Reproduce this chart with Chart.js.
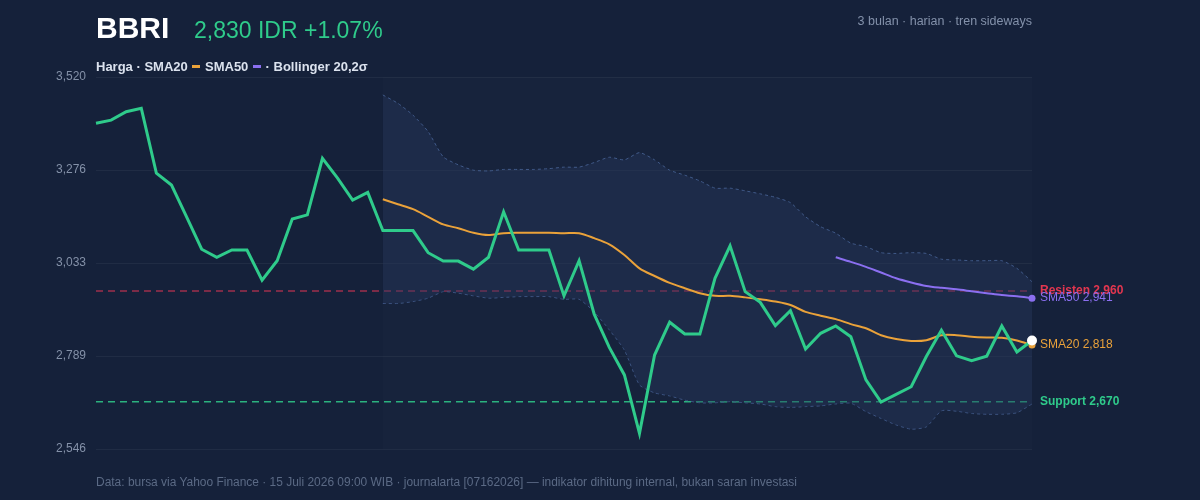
<!DOCTYPE html>
<html lang="id">
<head>
<meta charset="utf-8">
<title>BBRI</title>
<script src="https://cdn.jsdelivr.net/npm/chart.js@4.4.1/dist/chart.umd.min.js"></script>
<style>
  body { margin: 0; background: #15213a; font-family: "Liberation Sans", Arial, sans-serif; }
  #wrap { position: relative; width: 1200px; height: 500px; overflow: hidden; background: #15213a; }
  #chart { position: absolute; left: 0; top: 0; }
  .txt { position: absolute; white-space: nowrap; }
  #ticker { left: 96px; top: 13px; font-size: 30px; line-height: 30px; font-weight: bold; color: #ffffff; }
  #quote { left: 194px; top: 19px; font-size: 23px; line-height: 23px; color: #2fcb8b; }
  #meta { right: 168px; top: 14px; font-size: 12.5px; line-height: 14px; color: #8391aa; }
  #legend { left: 96px; top: 60px; font-size: 13px; line-height: 13px; font-weight: bold; color: #dbe2ee; }
  #legend .sw { display: inline-block; width: 8px; height: 3px; vertical-align: 3px; margin: 0 1px; }
  #footer { left: 96px; top: 476px; font-size: 12px; line-height: 12px; color: #5b6a85; transform-origin: 0 50%; }
</style>
</head>
<body>
<div id="wrap">
  <canvas id="chart" width="1200" height="500"></canvas>
  <div class="txt" id="ticker">BBRI</div>
  <div class="txt" id="quote">2,830 IDR +1.07%</div>
  <div class="txt" id="meta">3 bulan · harian · tren sideways</div>
  <div class="txt" id="legend">Harga · SMA20 <span class="sw" style="background:#eaa23a"></span> SMA50 <span class="sw" style="background:#8b6ff0"></span> · Bollinger 20,2σ</div>
  <div class="txt" id="footer">Data: bursa via Yahoo Finance · 15 Juli 2026 09:00 WIB · journalarta [07162026] — indikator dihitung internal, bukan saran investasi</div>
</div>
<script>
// Hari perdagangan (3 bulan, harian)
const days = Array.from({ length: 63 }, (_, i) => 'H' + (i + 1));

// Harga penutupan BBRI
const price = [3399, 3407, 3429, 3438, 3268, 3237, 3154, 3069, 3048, 3067,
  3067, 2988, 3039, 3148, 3159, 3307, 3255, 3198, 3218, 3118,
  3118, 3118, 3060, 3038, 3038, 3017, 3048, 3167, 3067, 3067,
  3067, 2947, 3039, 2899, 2812, 2740, 2587, 2792, 2878, 2847,
  2847, 2993, 3078, 2958, 2930, 2869, 2908, 2808, 2849, 2868,
  2840, 2727, 2669, 2689, 2709, 2788, 2857, 2790, 2777, 2789,
  2868, 2800, 2830];

// SMA20 mulai hari ke-20
const sma20 = [3200, 3187, 3174, 3154, 3134, 3124, 3112, 3106, 3111, 3112,
  3112, 3112, 3111, 3111, 3098, 3082, 3054, 3019, 2999, 2981,
  2967, 2954, 2947, 2947, 2943, 2938, 2932, 2923, 2905, 2895,
  2886, 2873, 2862, 2844, 2834, 2829, 2831, 2844, 2844, 2840,
  2838, 2837, 2830, 2818];

// SMA50 mulai hari ke-50
const sma50 = [3048, 3036, 3023, 3008, 2993, 2982, 2973, 2968, 2964, 2959,
  2954, 2949, 2946, 2941];

// Bollinger 20,2σ
const bbUpper = [3473, 3451, 3420, 3377, 3311, 3290, 3276, 3274, 3278, 3278,
  3278, 3280, 3284, 3284, 3296, 3310, 3303, 3322, 3303, 3276,
  3263, 3248, 3229, 3229, 3222, 3214, 3205, 3191, 3154, 3128,
  3111, 3085, 3076, 3060, 3058, 3060, 3058, 3043, 3041, 3039,
  3039, 3039, 3019, 2984];
const bbLower = [2927, 2927, 2932, 2941, 2958, 2954, 2947, 2941, 2943, 2945,
  2945, 2945, 2938, 2938, 2905, 2858, 2805, 2714, 2693, 2685,
  2674, 2667, 2667, 2670, 2667, 2664, 2657, 2655, 2657, 2659,
  2664, 2666, 2644, 2626, 2609, 2598, 2604, 2646, 2645, 2639,
  2637, 2637, 2641, 2664];

// Sumbu Y
const yMin = 2546;
const yMax = 3520;
const tickLabels = ['2,546', '2,789', '3,033', '3,276', '3,520'];

// Level support / resisten
const levelNames = ['Resisten', 'Support'];
const levelValues = [2960, 2670];
const levelColors = ['#e2364f', '#2fcb8b'];
const levelLineColors = ['rgba(214, 54, 84, 0.7)', 'rgba(47, 203, 139, 0.85)'];

const GREEN = '#2fcb8b';
const ORANGE = '#eaa23a';
const PURPLE = '#8b6ff0';

const pad = (n, arr) => Array(n).fill(null).concat(arr);
const lastOnly = (r) => (ctx) => (ctx.dataIndex === days.length - 1 ? r : 0);
const fmt = (v) => v.toLocaleString('en-US');

// Latar jendela Bollinger + garis level
const levelsPlugin = {
  id: 'levels',
  beforeDatasetsDraw(chart) {
    const { ctx, chartArea, scales } = chart;
    const x0 = scales.x.getPixelForValue(days.length - bbUpper.length);
    const x1 = scales.x.getPixelForValue(days.length - 1);
    ctx.save();
    ctx.fillStyle = 'rgba(255, 255, 255, 0.012)';
    ctx.fillRect(x0, chartArea.top, x1 - x0, chartArea.bottom - chartArea.top);
    ctx.lineWidth = 1.5;
    ctx.setLineDash([7, 5]);
    levelValues.forEach((v, i) => {
      const y = scales.y.getPixelForValue(v);
      ctx.strokeStyle = levelLineColors[i];
      ctx.beginPath();
      ctx.moveTo(chartArea.left, y);
      ctx.lineTo(chartArea.right, y);
      ctx.stroke();
    });
    ctx.restore();
  },
  afterDatasetsDraw(chart) {
    const { ctx, chartArea, scales } = chart;
    const x = chartArea.right + 8;
    ctx.save();
    ctx.textBaseline = 'middle';
    ctx.textAlign = 'left';
    const labels = [
      { text: levelNames[0] + ' ' + fmt(levelValues[0]), v: levelValues[0], c: levelColors[0], bold: true },
      { text: 'SMA50 ' + fmt(sma50[sma50.length - 1]), v: sma50[sma50.length - 1], c: PURPLE, bold: false },
      { text: 'SMA20 ' + fmt(sma20[sma20.length - 1]), v: sma20[sma20.length - 1], c: ORANGE, bold: false },
      { text: levelNames[1] + ' ' + fmt(levelValues[1]), v: levelValues[1], c: levelColors[1], bold: true }
    ];
    labels.forEach(l => {
      ctx.font = (l.bold ? 'bold ' : '') + '12px "Liberation Sans", Arial, sans-serif';
      ctx.fillStyle = l.c;
      ctx.fillText(l.text, x, scales.y.getPixelForValue(l.v));
    });
    ctx.restore();
  }
};

function initChart() {
  const ctx = document.getElementById('chart').getContext('2d');

  const bandLine = {
    borderColor: 'rgba(70, 96, 145, 0.9)',
    borderWidth: 1,
    borderDash: [3, 3],
    pointRadius: 0,
    tension: 0.2
  };

  new Chart(ctx, {
    type: 'line',
    data: {
      labels: days,
      datasets: [
        {
          label: 'Harga',
          data: price,
          borderColor: GREEN,
          borderWidth: 3,
          tension: 0,
          pointRadius: lastOnly(5),
          pointBackgroundColor: '#ffffff',
          pointBorderWidth: 0,
          order: 0
        },
        {
          label: 'SMA20',
          data: pad(days.length - sma20.length, sma20),
          borderColor: ORANGE,
          borderWidth: 2,
          tension: 0.3,
          pointRadius: lastOnly(3.5),
          pointBackgroundColor: ORANGE,
          pointBorderWidth: 0,
          order: 1
        },
        {
          label: 'SMA50',
          data: pad(days.length - sma50.length, sma50),
          borderColor: PURPLE,
          borderWidth: 2,
          tension: 0.3,
          pointRadius: lastOnly(3.5),
          pointBackgroundColor: PURPLE,
          pointBorderWidth: 0,
          order: 2
        },
        Object.assign({
          label: 'BB atas',
          data: pad(days.length - bbUpper.length, bbUpper),
          fill: '+1',
          backgroundColor: 'rgba(38, 56, 94, 0.42)',
          order: 3
        }, bandLine),
        Object.assign({
          label: 'BB bawah',
          data: pad(days.length - bbLower.length, bbLower),
          fill: false,
          order: 4
        }, bandLine)
      ]
    },
    options: {
      responsive: false,
      animation: false,
      layout: { padding: { top: 77, bottom: 51, left: 0, right: 168 } },
      plugins: {
        legend: { display: false },
        tooltip: { enabled: false }
      },
      scales: {
        x: { display: false, offset: false },
        y: {
          min: yMin,
          max: yMax,
          afterFit(scale) { scale.width = 96; },
          afterBuildTicks(scale) {
            const step = (yMax - yMin) / (tickLabels.length - 1);
            scale.ticks = tickLabels.map((_, i) => ({ value: yMin + step * i }));
          },
          border: { display: false },
          grid: { color: 'rgba(255, 255, 255, 0.05)', drawTicks: false },
          ticks: {
            padding: 10,
            color: '#8491a8',
            font: { family: '"Liberation Sans", Arial, sans-serif', size: 12 },
            callback: (v, i) => tickLabels[i]
          }
        }
      }
    },
    plugins: [levelsPlugin]
  });
}

// Footer dipadatkan ke lebar aslinya
function fitFooter() {
  const f = document.getElementById('footer');
  const w = f.getBoundingClientRect().width;
  f.style.transform = 'scaleX(' + (701 / w) + ')';
}

document.addEventListener('DOMContentLoaded', () => {
  initChart();
  fitFooter();
});
</script>
</body>
</html>
